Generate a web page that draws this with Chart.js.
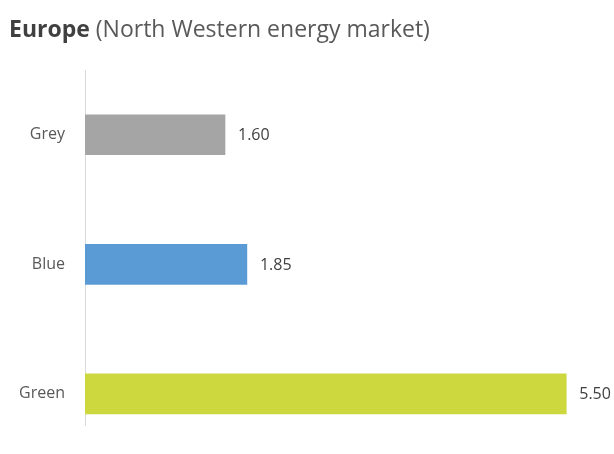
<!DOCTYPE html>
<html lang="en">
<head>
  <meta charset="UTF-8">
  <title>Europe (North Western energy market)</title>
  <script src="https://cdn.jsdelivr.net/npm/chart.js"></script>
  <style>
    html, body {
      margin: 0;
      background: #fff;
      font-family: "Open Sans", Arial, sans-serif;
    }
    #wrap {
      position: relative;
      width: 614px;
      height: 454px;
      overflow: hidden;
    }
    #title {
      position: absolute;
      left: 9px;
      top: 13px;
      font-size: 23px;
      line-height: 30px;
      color: #595959;
      white-space: nowrap;
    }
    #title b { color: #404040; }
    #energyChart { position: absolute; left: 0; top: 0; }
  </style>
</head>
<body>
  <div id="wrap">
    <canvas id="energyChart" width="614" height="454"></canvas>
    <div id="title"><b>Europe</b> (North Western energy market)</div>
  </div>
  <script>
    const categories = ['Grey', 'Blue', 'Green'];
    const prices = [1.60, 1.85, 5.50];
    const colors = ['#a5a5a5', '#5b9bd5', '#cdd73e'];

    // value labels to the right of each bar
    const valueLabels = {
      id: 'valueLabels',
      afterDatasetsDraw(chart) {
        const c = chart.ctx;
        const meta = chart.getDatasetMeta(0);
        c.save();
        c.font = '16px "Open Sans", Arial, sans-serif';
        c.fillStyle = '#404040';
        c.textAlign = 'left';
        c.textBaseline = 'middle';
        meta.data.forEach((bar, i) => {
          c.fillText(prices[i].toFixed(2), bar.x + 13, bar.y + 1);
        });
        c.restore();
      }
    };

    const chart = new Chart(document.getElementById('energyChart'), {
      type: 'bar',
      data: {
        datasets: [{
          data: prices.map((v, i) => ({ x: v, y: i })),
          backgroundColor: colors,
          barThickness: 40
        }]
      },
      plugins: [valueLabels],
      options: {
        indexAxis: 'y',
        responsive: false,
        animation: false,
        layout: { padding: { top: 70, bottom: 29, left: 0, right: 4 } },
        plugins: {
          legend: { display: false },
          tooltip: { enabled: false }
        },
        scales: {
          x: {
            type: 'linear',
            min: 0,
            max: 6,
            display: false
          },
          y: {
            type: 'linear',
            reverse: true,
            offset: false,
            min: -0.5,
            max: 2.24,
            afterFit: s => { s.width = 85; },
            grid: { display: false },
            border: { display: true, color: '#d9d9d9', width: 1 },
            ticks: {
              stepSize: 1,
              padding: 12,
              color: '#595959',
              font: { family: '"Open Sans", Arial, sans-serif', size: 16 },
              callback: v => Number.isInteger(v) ? (categories[v] ?? '') : ''
            }
          }
        }
      }
    });
  </script>
</body>
</html>
